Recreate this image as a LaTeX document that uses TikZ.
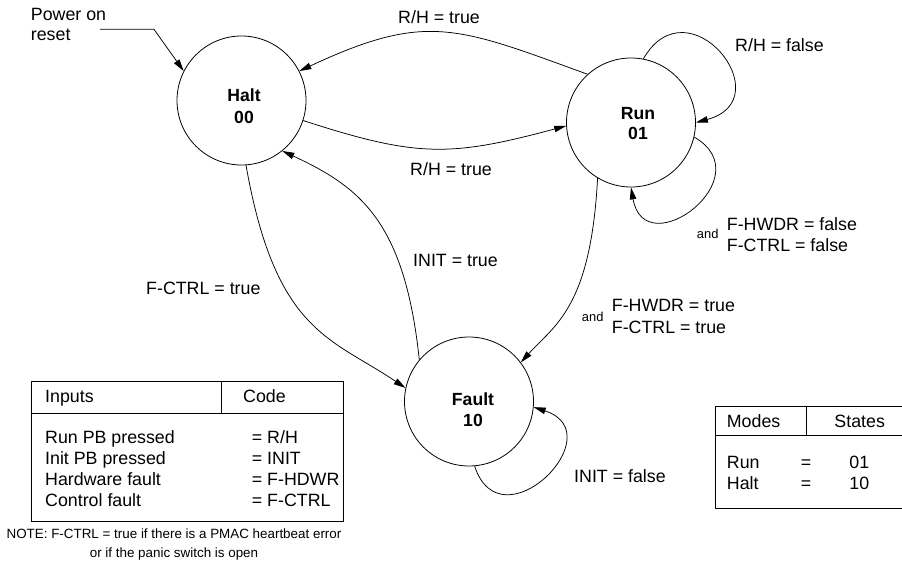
\documentclass[tikz,border=0pt]{standalone}
\usepackage{fontspec}
\setmainfont{Liberation Sans}
\usetikzlibrary{arrows.meta}
\tikzset{
  state/.style={draw, circle, line width=0.8pt, minimum size=129pt, inner sep=0pt},
  stname/.style={inner sep=0pt, anchor=base, font=\fontsize{17.6}{21}\selectfont\bfseries},
  txt/.style={inner sep=0pt, anchor=base west, font=\fontsize{17.8}{21}\selectfont},
  txtc/.style={inner sep=0pt, anchor=base, font=\fontsize{17.8}{21}\selectfont},
  small/.style={inner sep=0pt, anchor=base west, font=\fontsize{12.9}{15}\selectfont},
  notetxt/.style={inner sep=0pt, anchor=base, font=\fontsize{13.4}{16}\selectfont},
  arr/.style={line width=0.75pt, -{Triangle[length=12pt,width=6.5pt]}},
  tbl/.style={line width=0.8pt}
}
\begin{document}
\begin{tikzpicture}[x=1pt,y=1pt]
\useasboundingbox (0,0) rectangle (902,-564);

% states
\node[state] (halt)  at (241.5,-100.5) {};
\node[state] (run)   at (631,-122.5) {};
\node[state] (fault) at (469,-401.5) {};

\node[stname] (haltname)  at (244,-102)   {Halt};
\node[stname] (haltcode)  at (244,-123.3) {00};
\node[stname] (runname)   at (638,-119.3) {Run};
\node[stname] (runcode)   at (638,-140)   {01};
\node[stname] (faultname) at (473,-405)   {Fault};
\node[stname] (faultcode) at (473,-426)   {10};

% power on reset entry
\node[txt] (pwr1) at (30.7,-20.7) {Power on};
\node[txt] (pwr2) at (30.7,-41)   {reset};
\coordinate (pwrstart) at (100,-29.3);
\coordinate (pwrbend)  at (154,-29.3);
\draw[arr] (pwrstart) -- (pwrbend) -- (halt.153);

% transitions between states
\draw[arr] (run.132) .. controls +(160:140) and +(25:140) .. (halt.27);
\draw[arr] (halt.-18) .. controls +(-18:120) and +(195:120) .. (run.183);
\draw[arr] (halt.-86) .. controls +(-80:170) and +(146:90) .. (fault.168);
\draw[arr] (fault.140) .. controls +(96:140) and +(-25:85) .. (halt.-51);
\draw[arr] (run.-121) .. controls +(-93:130) and +(48:50) .. (fault.37);

% self loops
\draw[arr] (run.79) .. controls +(60:90) and +(15:90) .. (run.0);
\draw[arr] (run.-13) .. controls +(-30:80) and +(-80:80) .. (run.-90);
\draw[arr] (fault.-85) .. controls +(-72:85) and +(-18:85) .. (fault.-5);

% transition labels
\node[txt] (l1) at (398,-23.3)  {R/H = true};
\node[txt] (l2) at (735,-51.7)  {R/H = false};
\node[txt] (l3) at (410,-176)   {R/H = true};
\node[txt] (l4) at (413,-266)   {INIT = true};
\node[txt] (l5) at (146,-294)   {F-CTRL = true};
\node[small] (l6a) at (581.7,-321.7) {and};
\node[txt] (l6b) at (611.7,-311.7) {F-HWDR = true};
\node[txt] (l6c) at (611.7,-333.3) {F-CTRL = true};
\node[small] (l7a) at (696.7,-238.3) {and};
\node[txt] (l7b) at (726.7,-230.7) {F-HWDR = false};
\node[txt] (l7c) at (726.7,-251.7) {F-CTRL = false};
\node[txt] (l8) at (574,-482.7) {INIT = false};

% inputs table
\draw[tbl] (31.7,-381.7) rectangle (343,-521.7);
\draw[tbl] (31.7,-413.3) -- (343,-413.3);
\draw[tbl] (221.7,-381.7) -- (221.7,-413.3);
\node[txt] (th1) at (45,-402.3)  {Inputs};
\node[txt] (th2) at (243,-402.3) {Code};
\node[txt] (r1a) at (45,-443.3) {Run PB pressed};
\node[txt] (r2a) at (45,-464)   {Init PB pressed};
\node[txt] (r3a) at (45,-485)   {Hardware fault};
\node[txt] (r4a) at (45,-506.7) {Control fault};
\node[txt] (r1b) at (251.7,-443.3) {= R/H};
\node[txt] (r2b) at (251.7,-464)   {= INIT};
\node[txt] (r3b) at (251.7,-485)   {= F-HDWR};
\node[txt] (r4b) at (251.7,-506.7) {= F-CTRL};

\node[notetxt] (note1) at (174,-538)   {NOTE: F-CTRL = true if there is a PMAC heartbeat error};
\node[notetxt] (note2) at (174,-557.5) {or if the panic switch is open};

% modes table (runs past the right edge)
\draw[tbl] (902,-406) -- (715.7,-406) -- (715.7,-508.3) -- (902,-508.3);
\draw[tbl] (715.7,-435) -- (902,-435);
\draw[tbl] (806,-406) -- (806,-435);
\node[txt]  (mh1) at (726.7,-427.7) {Modes};
\node[txtc] (mh2) at (859.7,-427.7) {States};
\node[txt]  (m1a) at (726.7,-468.3) {Run};
\node[txtc] (m1b) at (806,-468.3)   {=};
\node[txtc] (m1c) at (859.3,-468.3) {01};
\node[txt]  (m2a) at (726.7,-489.3) {Halt};
\node[txtc] (m2b) at (806,-489.3)   {=};
\node[txtc] (m2c) at (859.3,-489.3) {10};
\end{tikzpicture}
\end{document}
